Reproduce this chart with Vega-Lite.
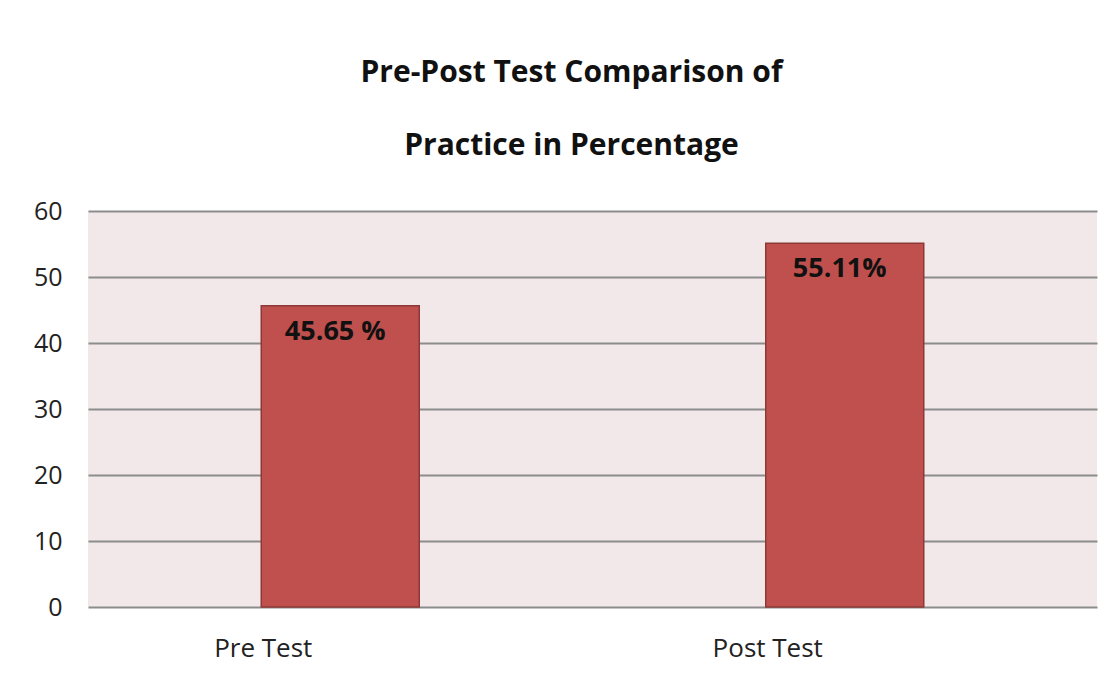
{
  "$schema": "https://vega.github.io/schema/vega-lite/v6.json",
  "width": 1009,
  "height": 396,
  "autosize": {"type": "none"},
  "padding": {"left": 88, "top": 211, "right": 22, "bottom": 74},
  "background": "white",
  "view": {"fill": "#F2E8EA", "stroke": null},
  "title": {
    "text": ["Pre-Post Test Comparison of", "Practice in Percentage"],
    "font": "Open Sans",
    "fontSize": 30,
    "fontWeight": "bold",
    "color": "#111111",
    "lineHeight": 73,
    "anchor": "middle",
    "dx": -21,
    "offset": 38
  },
  "data": {
    "values": [
      {"test": "Pre Test", "value": 45.65, "label": "45.65 %"},
      {"test": "Post Test", "value": 55.11, "label": "55.11%"}
    ]
  },
  "encoding": {
    "x": {
      "field": "test",
      "type": "nominal",
      "sort": null,
      "scale": {"paddingInner": 0, "paddingOuter": 0},
      "axis": {
        "title": null,
        "labelAngle": 0,
        "labelFont": "Open Sans",
        "labelFontSize": 26,
        "labelColor": "#222222",
        "labelOffset": -77,
        "labelPadding": 28,
        "ticks": false,
        "domain": false
      }
    },
    "y": {
      "field": "value",
      "type": "quantitative",
      "scale": {"domain": [0, 60]},
      "axis": {
        "title": null,
        "values": [0, 10, 20, 30, 40, 50, 60],
        "labelFont": "Open Sans",
        "labelFontSize": 25,
        "labelColor": "#222222",
        "labelPadding": 26,
        "ticks": false,
        "domain": false,
        "grid": true,
        "gridColor": "#8C8C8C",
        "gridWidth": 2
      }
    }
  },
  "layer": [
    {
      "mark": {"type": "bar", "size": 158, "color": "#C0504D", "stroke": "#8C3836", "strokeWidth": 1.5}
    },
    {
      "mark": {"type": "text", "baseline": "top", "dy": 13, "dx": -5, "font": "Open Sans", "fontSize": 27, "fontWeight": "bold", "color": "#111111"},
      "encoding": {"text": {"field": "label"}}
    }
  ]
}
